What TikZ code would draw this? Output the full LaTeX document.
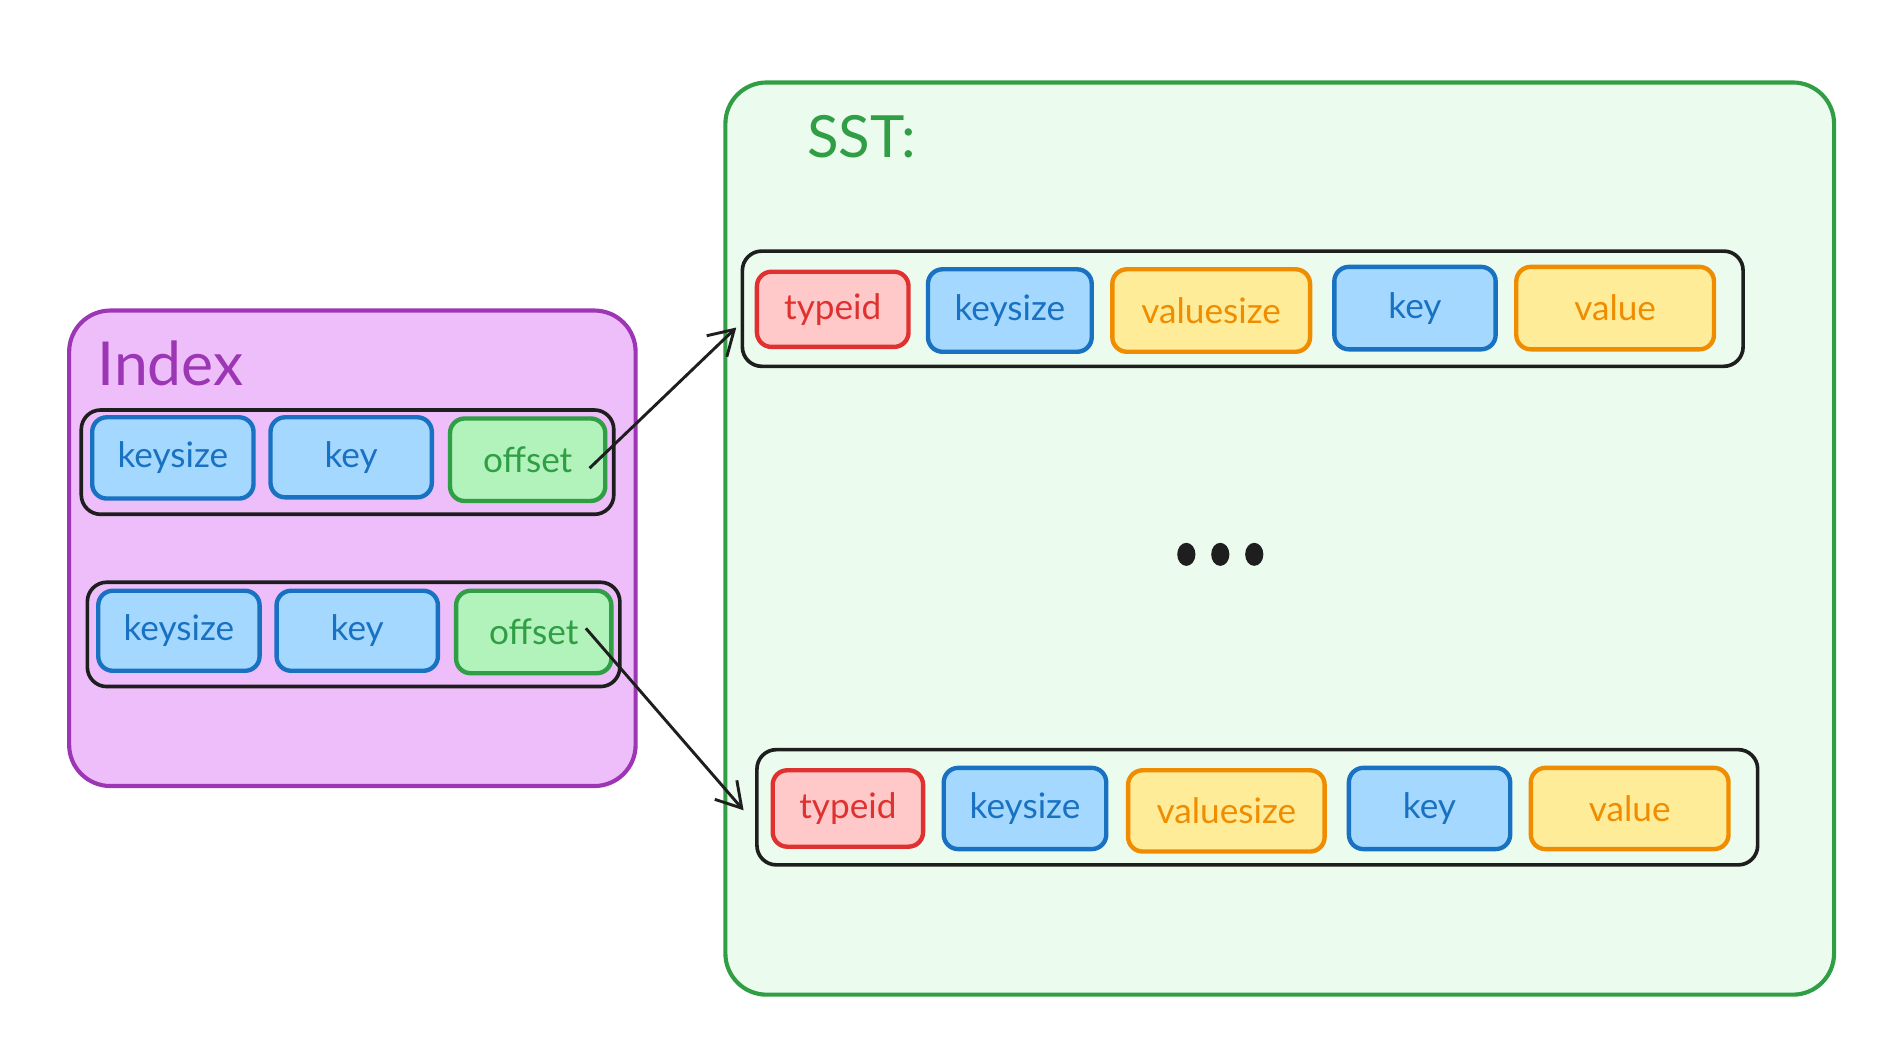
\documentclass[tikz,border=0pt]{standalone}
\usepackage{fontspec}
\setmainfont{Lato}
\usetikzlibrary{fit,arrows.meta,shapes.geometric}
\definecolor{ink}{HTML}{1E1E1E}
\definecolor{pstroke}{HTML}{9C36B5}
\definecolor{pfill}{HTML}{EEBEFA}
\definecolor{bstroke}{HTML}{1971C2}
\definecolor{bfill}{HTML}{A5D8FF}
\definecolor{gstroke}{HTML}{2F9E44}
\definecolor{gfill}{HTML}{B2F2BB}
\definecolor{sstfill}{HTML}{EBFBEE}
\definecolor{rstroke}{HTML}{E03131}
\definecolor{rfill}{HTML}{FFC9C9}
\definecolor{ostroke}{HTML}{F08C00}
\definecolor{ofill}{HTML}{FFEC99}
\tikzset{
  container/.style={rounded corners=17pt, line width=1.7pt, inner sep=0pt},
  rowbox/.style={draw=ink, rounded corners=8pt, line width=1.5pt, inner sep=0pt},
  cell/.style={rounded corners=6pt, line width=1.8pt, inner sep=0pt, font=\fontsize{14.5}{16}\selectfont},
  bluecell/.style={cell, draw=bstroke, fill=bfill, text=bstroke},
  greencell/.style={cell, draw=gstroke, fill=gfill, text=gstroke},
  redcell/.style={cell, draw=rstroke, fill=rfill, text=rstroke},
  orangecell/.style={cell, draw=ostroke, fill=ofill, text=ostroke},
  sz/.style 2 args={minimum width=#1pt, minimum height=#2pt},
  connector/.style={draw=ink, line width=1.2pt, -{Straight Barb[length=10pt,width=12pt,line width=1.2pt]}},
  dotmark/.style={ellipse, fill=ink, inner sep=0pt, minimum width=7.5pt, minimum height=9.5pt},
}
\begin{document}
\begin{tikzpicture}[x=0.5pt,y=-0.5pt]
\useasboundingbox (0,0) rectangle (1568,866);
% Index container
\node[container, draw=pstroke, fill=pfill, fit={(57,256) (524,648)}] (index) {};
\node[anchor=base west, text=pstroke, font=\fontsize{25}{28}\selectfont, inner sep=0pt] (indexlbl) at (80,318) {Index};
% SST container
\node[container, draw=gstroke, fill=sstfill, fit={(598,68) (1512,820)}] (sst) {};
\node[anchor=base west, text=gstroke, font=\fontsize{24}{28}\selectfont, inner sep=0pt] (sstlbl) at (665,130) {SST:};
% Index rows
\node[rowbox, fit={(67,338) (506,424)}] (irow1) {};
\node[bluecell, sz={66.5}{33.5}] (ik1) at (142.5,377.5) {keysize};
\node[bluecell, sz={66.5}{33}] (ikey1) at (289.5,377) {key};
\node[greencell, sz={64}{34}] (ioff1) at (435,379) {offset};
\node[rowbox, fit={(72,480) (511,566)}] (irow2) {};
\node[bluecell, sz={66.5}{33}] (ik2) at (147.5,520) {keysize};
\node[bluecell, sz={66.5}{33}] (ikey2) at (294.5,520) {key};
\node[greencell, sz={64}{34}] (ioff2) at (440,521) {offset};
% SST rows
\node[rowbox, fit={(612,207) (1437,302)}] (srow1) {};
\node[redcell, sz={62.5}{31}] (st1) at (686.5,255) {typeid};
\node[bluecell, sz={67.5}{34}] (sk1) at (832.5,256) {keysize};
\node[orangecell, sz={81.5}{34}] (svs1) at (998.5,256) {valuesize};
\node[bluecell, sz={66.5}{34}] (skey1) at (1166.5,254) {key};
\node[orangecell, sz={81.5}{34}] (sv1) at (1331.5,254) {value};
\node[rowbox, fit={(624,618) (1449,713)}] (srow2) {};
\node[redcell, sz={62}{31.5}] (st2) at (699,666.5) {typeid};
\node[bluecell, sz={67}{33.5}] (sk2) at (845,666.5) {keysize};
\node[orangecell, sz={81}{33.5}] (svs2) at (1011,668.5) {valuesize};
\node[bluecell, sz={66.5}{33.5}] (skey2) at (1178.5,666.5) {key};
\node[orangecell, sz={81.5}{33.5}] (sv2) at (1343.5,666.5) {value};
% ellipsis
\node[dotmark] (d1) at (978,457) {};
\node[dotmark] (d2) at (1006,457) {};
\node[dotmark] (d3) at (1034,457) {};
% connectors
\coordinate (a1s) at (486,386);
\coordinate (a1e) at (607,270);
\coordinate (a2s) at (483,518);
\coordinate (a2e) at (613,668);
\draw[connector] (a1s) -- (a1e);
\draw[connector] (a2s) -- (a2e);
\end{tikzpicture}
\end{document}
